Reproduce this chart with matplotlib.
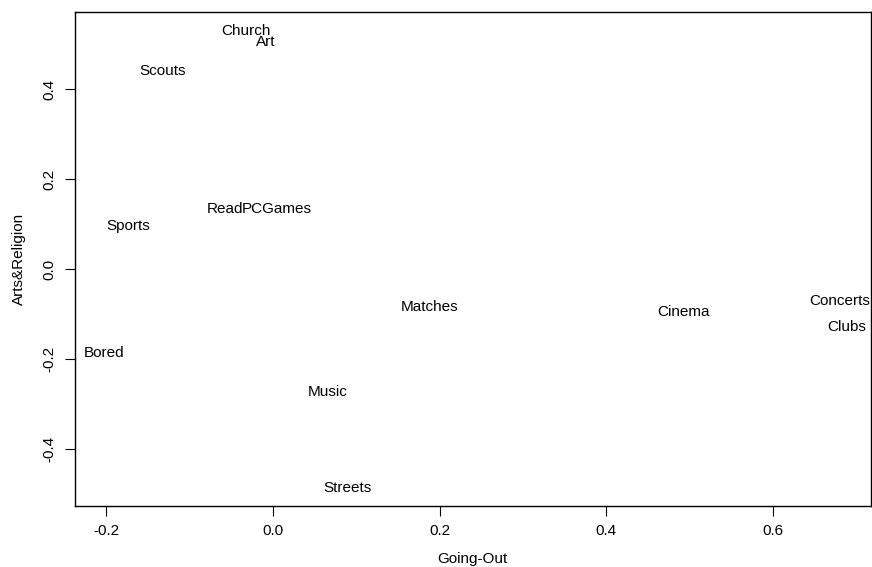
"""Biplot-style text scatter: Going-Out vs Arts&Religion."""

import matplotlib

matplotlib.use("Agg")
import matplotlib.pyplot as plt

labels = ["Church", "Art", "Scouts", "Read", "PCGames", "Sports", "Bored",
          "Music", "Streets", "Matches", "Cinema", "Concerts", "Clubs"]
going_out = [-0.032, -0.009, -0.132, -0.058, 0.005, -0.174, -0.203,
             0.066, 0.090, 0.188, 0.493, 0.680, 0.689]
arts_religion = [0.529, 0.504, 0.440, 0.133, 0.133, 0.096, -0.186,
                 -0.273, -0.487, -0.084, -0.096, -0.071, -0.129]

x_ticks = [-0.2, 0.0, 0.2, 0.4, 0.6]
y_ticks = [-0.4, -0.2, 0.0, 0.2, 0.4]

plt.rcParams["font.family"] = ["Liberation Sans", "DejaVu Sans"]

fig = plt.figure(figsize=(8.72, 5.67), dpi=100)
ax = fig.add_axes([0.0857, 0.1081, 0.9128, 0.8702])

for name, x, y in zip(labels, going_out, arts_religion):
    ax.text(x, y, name, ha="center", va="center", fontsize=11)

ax.set_xlim(-0.2379, 0.7175)
ax.set_ylim(-0.526, 0.5704)
ax.set_xticks(x_ticks)
ax.set_xticklabels([f"{v:.1f}" for v in x_ticks])
ax.set_yticks(y_ticks)
ax.set_yticklabels([f"{v:.1f}" for v in y_ticks], rotation=90, va="center")
ax.tick_params(direction="out", length=7, width=0.8, labelsize=11, pad=6)
for spine in ax.spines.values():
    spine.set_linewidth(1.0)
ax.set_xlabel("Going-Out", fontsize=11, labelpad=10)
ax.set_ylabel("Arts&Religion", fontsize=11, labelpad=12)

fig.savefig("out.png", dpi=100, facecolor="white")
